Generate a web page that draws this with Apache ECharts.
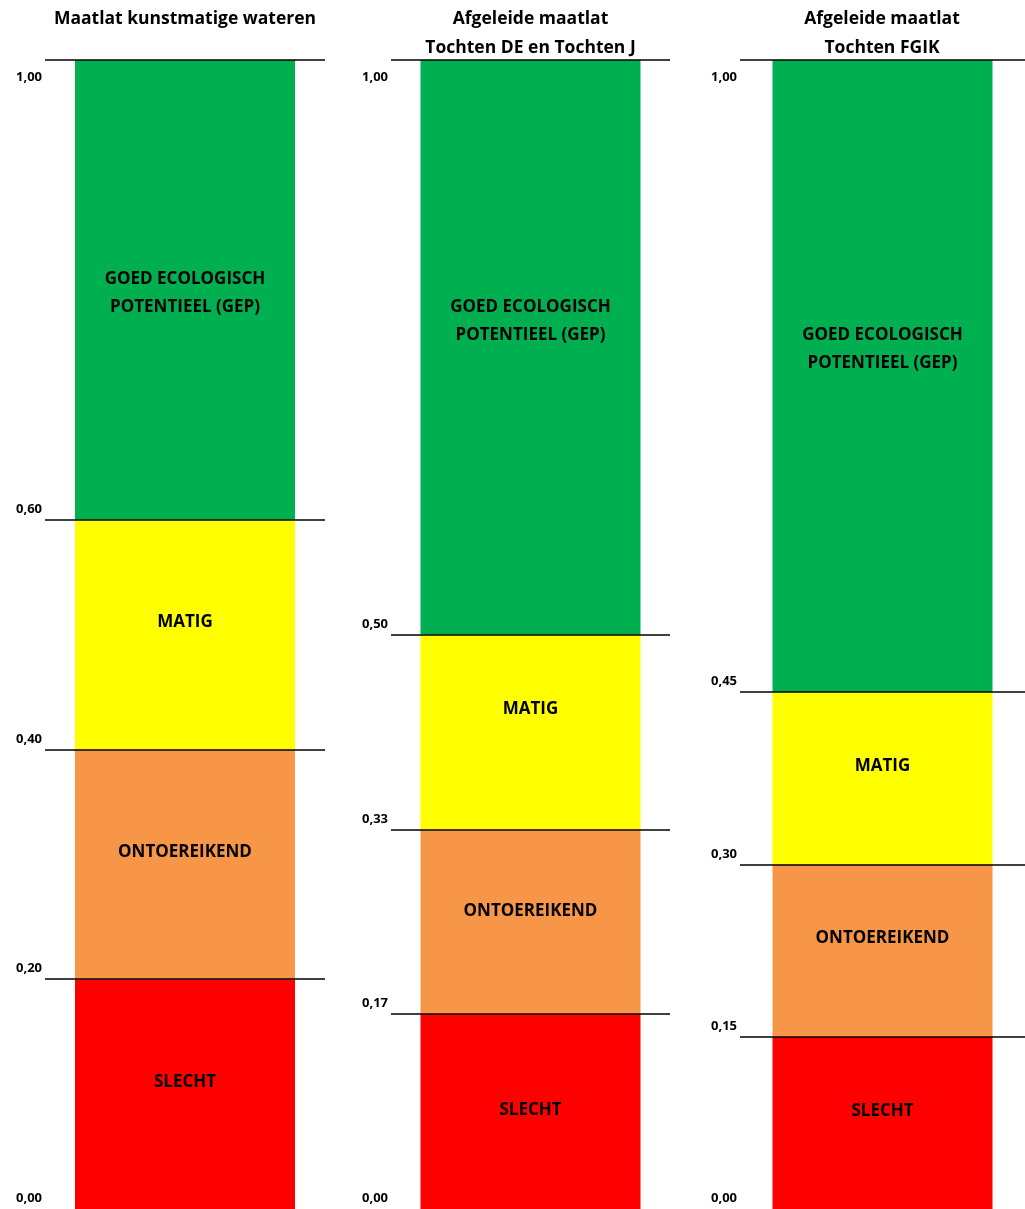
<!DOCTYPE html>
<html>
<head>
<meta charset="utf-8">
<title>Maatlatten</title>
<script src="https://cdn.jsdelivr.net/npm/echarts@6/dist/echarts.min.js"></script>
<style>
  html, body { margin: 0; padding: 0; background: #ffffff; }
  #chart { width: 1025px; height: 1209px; }
</style>
</head>
<body>
<div id="chart"></div>
<script>
// Class names, bottom to top
const classNames = ['SLECHT', 'ONTOEREIKEND', 'MATIG', 'GOED ECOLOGISCH\nPOTENTIEEL (GEP)'];
const classColors = ['#FF0000', '#F79646', '#FFFF00', '#00B050'];

// Panel titles
const panelTitles = [
  'Maatlat kunstmatige wateren',
  'Afgeleide maatlat\nTochten DE en Tochten J',
  'Afgeleide maatlat\nTochten FGIK'
];

// Class boundaries (EKR) per maatlat, bottom to top
const boundsKunstmatig = [0.00, 0.20, 0.40, 0.60, 1.00];
const boundsTochtenDEJ = [0.00, 0.17, 0.33, 0.50, 1.00];
const boundsTochtenFGIK = [0.00, 0.15, 0.30, 0.45, 1.00];

const panelBounds = [boundsKunstmatig, boundsTochtenDEJ, boundsTochtenFGIK];

// Layout of the three panels
const panelLayout = [
  { left: 45, width: 280, titleX: 185 },
  { left: 391, width: 279, titleX: 530.5 },
  { left: 740, width: 285, titleX: 882 }
];
const gridTop = 60;
const gridHeight = 1149;
const fontFamily = '"Open Sans", Lato, sans-serif';

// vertical nudge of the class names inside each segment (bottom to top)
const nameOffsets = [
  [-12, -12, -12, 3],
  [-1, -11, -23, -26],
  [-12, -12, -12, -27]
];

const fmt = v => v.toFixed(2).replace('.', ',');

const tickLabelStyle = {
  fontFamily,
  fontSize: 13,
  fontWeight: 'bold',
  color: '#000',
  margin: 3
};

const grids = [], xAxes = [], yAxes = [], series = [], titles = [];

panelBounds.forEach((bounds, p) => {
  const lay = panelLayout[p];
  grids.push({ left: lay.left, width: lay.width, top: gridTop, height: gridHeight });
  xAxes.push({ type: 'category', gridIndex: p, data: [''], show: false });

  // boundary values below the top: written just above their line
  yAxes.push({
    type: 'value', gridIndex: p, min: 0, max: 1, position: 'left',
    axisLine: { show: false }, axisTick: { show: false }, splitLine: { show: false },
    axisLabel: Object.assign({}, tickLabelStyle, {
      customValues: bounds.filter(v => v < 1),
      formatter: v => fmt(v),
      verticalAlign: 'bottom',
      lineHeight: 21
    })
  });
  // top value: written just below the top line
  yAxes.push({
    type: 'value', gridIndex: p, min: 0, max: 1, position: 'left', offset: 0,
    axisLine: { show: false }, axisTick: { show: false }, splitLine: { show: false },
    axisLabel: Object.assign({}, tickLabelStyle, {
      customValues: bounds.filter(v => v === 1),
      formatter: v => fmt(v),
      verticalAlign: 'top',
      lineHeight: 34
    })
  });

  titles.push({
    text: panelTitles[p],
    left: lay.titleX,
    top: 5,
    padding: 0,
    textAlign: 'center',
    textStyle: { fontFamily, fontSize: 17.5, fontWeight: 'bold', color: '#000', lineHeight: 29 }
  });

  classNames.forEach((name, c) => {
    const s = {
      name: name,
      type: 'bar',
      xAxisIndex: p,
      yAxisIndex: p * 2,
      stack: 'maatlat' + p,
      barWidth: 220,
      silent: true,
      itemStyle: { color: classColors[c] },
      label: {
        show: true,
        position: 'inside',
        offset: [0, nameOffsets[p][c]],
        formatter: name,
        fontFamily,
        fontSize: 17,
        fontWeight: 'bold',
        color: '#000',
        lineHeight: 28
      },
      data: [bounds[c + 1] - bounds[c]]
    };
    if (c === classNames.length - 1) {
      // boundary lines
      s.markLine = {
        silent: true,
        symbol: ['none', 'none'],
        animation: false,
        label: { show: false },
        lineStyle: { color: '#000', width: 1.5, type: 'solid' },
        data: bounds.filter(v => v > 0).map(v => ({ yAxis: v }))
      };
    }
    series.push(s);
  });
});

const chart = echarts.init(document.getElementById('chart'), null, { renderer: 'canvas' });
chart.setOption({
  animation: false,
  backgroundColor: '#ffffff',
  title: titles,
  grid: grids,
  xAxis: xAxes,
  yAxis: yAxes,
  series: series
});
</script>
</body>
</html>
